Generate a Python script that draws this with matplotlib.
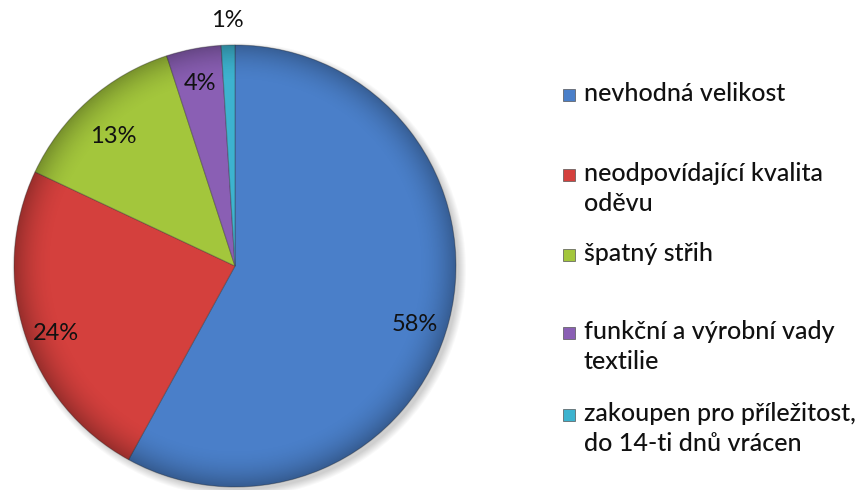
import numpy as np
import matplotlib.pyplot as plt
from matplotlib.patches import Rectangle

# Důvody vrácení oděvu (podíl v %)
labels = ["nevhodná velikost", "neodpovídající kvalita\noděvu", "špatný střih",
          "funkční a výrobní vady\ntextilie", "zakoupen pro příležitost,\ndo 14-ti dnů vrácen"]
shares = [58, 24, 13, 4, 1]
colors = ["#4a7fc9", "#d4403d", "#a3c63c", "#8a5fb4", "#3db3cf"]

plt.rcParams['font.family'] = ['Lato', 'DejaVu Sans']

W, H = 864, 490
fig = plt.figure(figsize=(W / 100, H / 100), dpi=100)
ax = fig.add_axes([0.0, 0.0, 1.0, 1.0])

cx, cy, r = 235, H - 266, 221

# soft shadow under the pie
for k in range(8):
    sh = plt.Circle((cx + 4, cy - 4), r + 6 - k, color='black', alpha=0.025, lw=0)
    ax.add_patch(sh)

wedges, _ = ax.pie(shares, colors=colors, startangle=90, counterclock=False,
                   radius=r, center=(cx, cy), frame=True,
                   wedgeprops=dict(edgecolor=(0.2, 0.2, 0.2, 0.35), linewidth=0.8))
ax.set_xlim(0, W)
ax.set_ylim(0, H)
ax.set_aspect('equal')
ax.axis('off')

# darker rim shading
yy, xx = np.mgrid[0:H, 0:W]
dist = np.hypot(xx - cx, yy - cy) / r
shade = np.zeros((H, W, 4))
shade[..., 3] = np.clip((dist - 0.82) / 0.18, 0, 1) ** 2 * 0.28
img = ax.imshow(shade, extent=(0, W, 0, H), origin='lower', zorder=3)
img.set_clip_path(plt.Circle((cx, cy), r, transform=ax.transData))

# percentage labels (small vertical nudge per slice)
dists = [0.84, 0.85, 0.83, 0.85, 1.11]
nudge = [-12, -9, -8, -2, 0]
for w, val, d, dy in zip(wedges, shares, dists, nudge):
    ang = np.deg2rad((w.theta1 + w.theta2) / 2)
    tx = cx + d * r * np.cos(ang)
    ty = cy + d * r * np.sin(ang) + dy
    ax.text(tx, ty, f"{val}%", ha='center', va='center', fontsize=17,
            color='#111111', zorder=5)

# legend
leg_y = [95, 175, 255, 333, 415]
for lab, col, y in zip(labels, colors, leg_y):
    ax.add_patch(Rectangle((563, H - y - 6), 12, 12, facecolor=col,
                           edgecolor='#555555', lw=0.5, zorder=5))
    ax.text(584, H - y + 13, lab, ha='left', va='top', fontweight='medium',
            fontsize=18, color='#111111', linespacing=1.35, zorder=5)

fig.savefig("out.png", dpi=100)
